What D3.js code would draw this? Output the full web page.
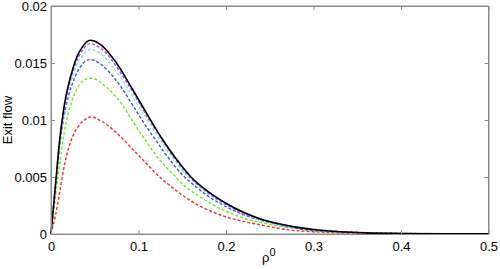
<!DOCTYPE html>
<html><head><meta charset="utf-8">
<script src="https://cdn.jsdelivr.net/npm/d3@7"></script>
<style>body{margin:0;background:#fff}svg{display:block}</style>
</head><body>
<script>
const xs = [0,0.005,0.01,0.015,0.02,0.025,0.03,0.035,0.04,0.045,0.05,0.055,0.06,0.07,0.08,0.09,0.1,0.11,0.12,0.13,0.14,0.15,0.16,0.18,0.2,0.22,0.24,0.26,0.28,0.3,0.33,0.36,0.4,0.45,0.5];
const blackVals  = [0,0.0042,0.0083,0.0112,0.0131,0.0145,0.0156,0.0163,0.0168,0.0170,0.0169,0.0167,0.0164,0.0155,0.0144,0.0131,0.0118,0.0105,0.0092,0.0080,0.0069,0.0059,0.0050,0.0037,0.0027,0.0019,0.0013,0.0009,0.0006,0.0004,0.0002,0.0001,0.00005,0.00002,0.00001];
const magentaVals= [0,0.0042,0.0082,0.0110,0.0129,0.0143,0.0153,0.0160,0.0165,0.0167,0.0166,0.0164,0.0161,0.0152,0.0141,0.0129,0.0116,0.0103,0.0091,0.0079,0.0068,0.0058,0.0049,0.0036,0.0026,0.0018,0.0013,0.0009,0.0006,0.0004,0.0002,0.0001,0.00005,0.00002,0.00001];
const cyanVals   = [0,0.0042,0.0081,0.0108,0.0126,0.0139,0.0149,0.0155,0.0160,0.0162,0.0161,0.0159,0.0156,0.0147,0.0137,0.0125,0.0112,0.0100,0.0088,0.0076,0.0066,0.0056,0.0048,0.0035,0.0025,0.0018,0.0012,0.0008,0.0006,0.0004,0.0002,0.0001,0.00005,0.00002,0.00001];
const blueVals   = [0,0.0041,0.0078,0.0104,0.0121,0.0133,0.0142,0.0148,0.0152,0.0153,0.0152,0.0150,0.0147,0.0139,0.0129,0.0117,0.0105,0.0093,0.0082,0.0071,0.0061,0.0052,0.0045,0.0033,0.0024,0.0017,0.0012,0.0008,0.0005,0.0003,0.0002,0.0001,0.00004,0.00001,0];
const greenVals  = [0,0.0032,0.0062,0.0088,0.0107,0.0119,0.0128,0.0133,0.0136,0.01366,0.0136,0.0134,0.0131,0.0124,0.0115,0.0103,0.0091,0.0080,0.0069,0.0060,0.0052,0.0044,0.0038,0.0028,0.0020,0.0014,0.0010,0.0007,0.0005,0.0003,0.00017,0.0001,0.00004,0.00001,0];
const redVals    = [0,0.0016,0.0037,0.0059,0.0075,0.0086,0.0093,0.0098,0.0101,0.01026,0.0102,0.0100,0.0098,0.0092,0.0085,0.0077,0.0069,0.0061,0.0053,0.0046,0.0040,0.0034,0.0029,0.0021,0.0015,0.0011,0.0008,0.0005,0.0003,0.0002,0.0001,0.00005,0.00002,0,0];
const seriesNames = ["red","green","blue","cyan","magenta","black"];
const seriesColors = ["#ff2a2a","#66ee22","#3355ff","#77eedd","#bb44ff","#000000"];
const xTicks = [0,0.1,0.2,0.3,0.4,0.5];
const yTicks = [0,0.005,0.01,0.015,0.02];
const yTickLabels = ["0","0.005","0.01","0.015","0.02"];

(function(){
const W=500,H=269;
const mL=51,mR=488.5,mT=6,mB=234;
const svg=d3.select("body").append("svg").attr("width",W).attr("height",H);
const x=d3.scaleLinear().domain([0,0.5]).range([mL,mR]);
const y=d3.scaleLinear().domain([0,0.02]).range([mB,mT]);
const axisCol="#8c8c8c";
const font="Liberation Sans, Arial, sans-serif";

svg.append("rect").attr("x",mL).attr("y",mT).attr("width",mR-mL).attr("height",mB-mT)
  .attr("fill","none").attr("stroke",axisCol).attr("stroke-width",1);

const allVals=[redVals,greenVals,blueVals,cyanVals,magentaVals,blackVals];
const line=d3.line().x(d=>x(d[0])).y(d=>y(d[1])).curve(d3.curveMonotoneX);
allVals.forEach((vals,i)=>{
  const data=xs.map((v,j)=>[v,vals[j]]);
  svg.append("path").attr("d",line(data)).attr("fill","none")
    .attr("stroke",seriesColors[i]).attr("stroke-width",seriesNames[i]==="black"?1.6:1.4)
    .attr("stroke-dasharray",seriesNames[i]==="black"?null:"3,2");
});

const xAxis=d3.axisBottom(x).tickValues(xTicks).tickSizeInner(-4).tickSizeOuter(0).tickPadding(8).tickFormat(d3.format("~g"));
const gx=svg.append("g").attr("transform",`translate(0,${mB})`).call(xAxis);
const xTop=d3.axisTop(x).tickValues(xTicks).tickSizeInner(-4).tickSizeOuter(0).tickFormat("");
const gxt=svg.append("g").attr("transform",`translate(0,${mT})`).call(xTop);
const yAxis=d3.axisLeft(y).tickValues(yTicks).tickSizeInner(-4).tickSizeOuter(0).tickPadding(4).tickFormat((d,i)=>yTickLabels[i]);
const gy=svg.append("g").attr("transform",`translate(${mL},0)`).call(yAxis);
const yRight=d3.axisRight(y).tickValues(yTicks).tickSizeInner(-4).tickSizeOuter(0).tickFormat("");
const gyr=svg.append("g").attr("transform",`translate(${mR},0)`).call(yRight);
[gx,gxt,gy,gyr].forEach(g=>{
  g.select(".domain").attr("stroke",axisCol);
  g.selectAll(".tick line").attr("stroke",axisCol);
  g.selectAll("text").attr("font-family",font).attr("font-size",13).attr("fill","#000");
});

svg.append("text").attr("transform",`translate(12,${(mT+mB)/2}) rotate(-90)`)
  .attr("text-anchor","middle").attr("font-family",font).attr("font-size",13).text("Exit flow");
const xl=svg.append("text").attr("x",262).attr("y",262).attr("font-family",font).attr("font-size",13);
xl.append("tspan").text("ρ");
xl.append("tspan").attr("dy",-6).attr("font-size",11).text("0");
})();
</script>
</body></html>
